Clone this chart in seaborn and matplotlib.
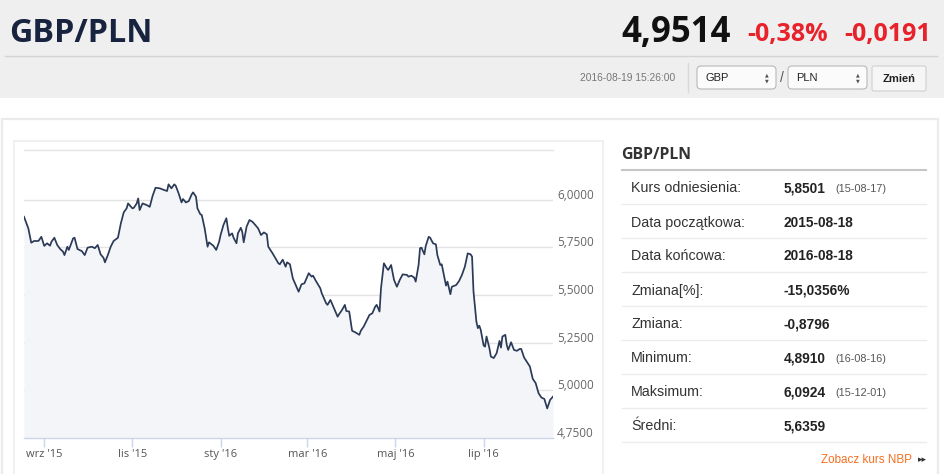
import numpy as np
import pandas as pd
import matplotlib
matplotlib.use("Agg")
import matplotlib.pyplot as plt
import seaborn as sns
from matplotlib.patches import FancyBboxPatch, Rectangle
from matplotlib.transforms import ScaledTranslation

# ---------------- data ----------------
start_date = "2015-08-18"
day_offsets = [0, 3, 5, 7, 10, 12, 14, 16, 18, 19, 21, 23, 25, 27, 28, 30, 31, 34, 35, 37,
               40, 42, 44, 47, 49, 51, 53, 55, 56, 58, 60, 62, 65, 67, 69, 71, 72, 75, 76, 78,
               79, 80, 82, 85, 87, 89, 91, 94, 97, 99, 100, 102, 104, 105, 107, 109, 110, 112, 114, 116,
               117, 119, 120, 122, 123, 125, 127, 128, 131, 133, 135, 136, 138, 140, 141, 142, 144, 145, 147, 148,
               150, 151, 152, 154, 156, 158, 160, 162, 164, 166, 168, 169, 172, 174, 176, 177, 179, 181, 182, 184,
               186, 188, 190, 192, 194, 197, 199, 200, 202, 205, 206, 209, 210, 212, 214, 217, 218, 220, 222, 223,
               225, 227, 229, 232, 233, 235, 237, 239, 241, 243, 244, 246, 247, 249, 251, 252, 254, 256, 258, 260,
               262, 265, 266, 268, 270, 271, 273, 274, 275, 277, 278, 280, 281, 283, 285, 286, 288, 289, 291, 292,
               293, 295, 296, 299, 301, 303, 305, 307, 309, 310, 311, 313, 314, 315, 316, 318, 319, 320, 322, 323,
               325, 327, 329, 330, 331, 333, 334, 335, 337, 339, 341, 343, 344, 346, 348, 350, 352, 354, 356, 358,
               360, 362, 364, 366]
rates = [5.910, 5.849, 5.774, 5.783, 5.783, 5.805, 5.757, 5.771, 5.758, 5.779, 5.800, 5.762, 5.741, 5.727, 5.709, 5.753, 5.736, 5.797, 5.800, 5.741,
         5.730, 5.709, 5.748, 5.753, 5.745, 5.762, 5.713, 5.695, 5.671, 5.709, 5.753, 5.783, 5.800, 5.875, 5.933, 5.954, 5.980, 5.954, 5.957, 5.980,
         6.006, 5.945, 5.980, 5.971, 5.962, 6.020, 6.062, 6.059, 6.050, 6.045, 6.080, 6.059, 6.080, 6.072, 6.032, 5.985, 6.003, 5.985, 5.992, 6.027,
         6.038, 6.015, 5.954, 5.923, 5.919, 5.849, 5.753, 5.776, 5.758, 5.736, 5.779, 5.814, 5.867, 5.902, 5.852, 5.810, 5.823, 5.800, 5.771, 5.823,
         5.852, 5.831, 5.776, 5.858, 5.893, 5.884, 5.867, 5.849, 5.814, 5.828, 5.818, 5.753, 5.718, 5.692, 5.666, 5.661, 5.685, 5.648, 5.671, 5.661,
         5.587, 5.552, 5.517, 5.556, 5.561, 5.614, 5.596, 5.601, 5.573, 5.535, 5.509, 5.457, 5.448, 5.474, 5.439, 5.386, 5.399, 5.421, 5.448, 5.416,
         5.413, 5.312, 5.305, 5.291, 5.312, 5.334, 5.364, 5.395, 5.404, 5.439, 5.448, 5.413, 5.535, 5.666, 5.640, 5.631, 5.657, 5.579, 5.543, 5.579,
         5.608, 5.605, 5.596, 5.601, 5.591, 5.570, 5.657, 5.745, 5.748, 5.713, 5.758, 5.805, 5.800, 5.771, 5.765, 5.709, 5.657, 5.661, 5.587, 5.549,
         5.570, 5.504, 5.543, 5.552, 5.573, 5.605, 5.648, 5.718, 5.713, 5.701, 5.517, 5.360, 5.326, 5.339, 5.317, 5.235, 5.229, 5.282, 5.221, 5.177,
         5.169, 5.195, 5.259, 5.224, 5.282, 5.291, 5.238, 5.212, 5.252, 5.212, 5.207, 5.217, 5.217, 5.172, 5.148, 5.125, 5.060, 5.038, 4.985, 4.962,
         4.955, 4.905, 4.950, 4.967]

x_tick_dates = ["2015-09-01", "2015-11-01", "2016-01-01", "2016-03-01", "2016-05-01", "2016-07-01"]
x_tick_labels = ["wrz '15", "lis '15", "sty '16", "mar '16", "maj '16", "lip '16"]
y_ticks = [4.75, 5.00, 5.25, 5.50, 5.75, 6.00]
y_tick_labels = ["4,7500", "5,0000", "5,2500", "5,5000", "5,7500", "6,0000"]

pair_title = "GBP/PLN"
last_rate = "4,9514"
change_pct = "-0,38%"
change_abs = "-0,0191"
timestamp = "2016-08-19 15:26:00"

table_labels = ["Kurs odniesienia:", "Data początkowa:", "Data końcowa:", "Zmiana[%]:",
                "Zmiana:", "Minimum:", "Maksimum:", "Średni:"]
table_values = ["5,8501", "2015-08-18", "2016-08-18", "-15,0356%", "-0,8796", "4,8910", "6,0924", "5,6359"]
table_notes = ["(15-08-17)", "", "", "", "", "(16-08-16)", "(15-12-01)", ""]

# ---------------- figure ----------------
W, H = 945, 474
fig = plt.figure(figsize=(W / 100, H / 100), dpi=100)
fig.patch.set_facecolor("white")

# background canvas in pixel coordinates
bg = fig.add_axes([0, 0, 1, 1], zorder=0)
bg.set_xlim(0, W)
bg.set_ylim(H, 0)
bg.axis("off")

# header band
bg.add_patch(Rectangle((0, 0), W, 98, facecolor="#efefef", edgecolor="none"))
bg.plot([5, 937], [56, 56], color="#d3d3d3", lw=1)
bg.text(9, 42, pair_title, fontfamily="Open Sans", fontweight="bold", fontsize=23.2,
        color="#17233f", va="baseline", ha="left")
bg.text(621, 42, last_rate, fontfamily="Open Sans", fontweight="bold", fontsize=25,
        color="#111111", va="baseline", ha="left")
bg.text(747, 41, change_pct, fontfamily="Open Sans", fontweight="bold", fontsize=18,
        color="#e8222b", va="baseline", ha="left")
bg.text(931, 41, change_abs, fontfamily="Open Sans", fontweight="bold", fontsize=18,
        color="#e8222b", va="baseline", ha="right")

bg.text(675, 78, timestamp, fontfamily="Liberation Sans", fontsize=7.4, color="#777777",
        va="center", ha="right")
bg.plot([688, 688], [63, 92], color="#d8d8d8", lw=1)

for (bx, lab) in [(697, "GBP"), (788, "PLN")]:
    bg.add_patch(FancyBboxPatch((bx, 66), 79, 23, boxstyle="round,pad=0,rounding_size=4",
                                facecolor="#fbfbfb", edgecolor="#b8b8b8", lw=0.8))
    bg.text(bx + 8, 77.5, lab, fontfamily="Liberation Sans", fontsize=8, color="#222222",
            va="center", ha="left")
    bg.text(bx + 70, 74.5, "▲", fontsize=3.5, color="#555555", va="center", ha="center")
    bg.text(bx + 70, 80.5, "▼", fontsize=3.5, color="#555555", va="center", ha="center")
bg.text(782, 78, "/", fontfamily="Liberation Sans", fontsize=10, color="#555555",
        va="center", ha="center")
bg.add_patch(FancyBboxPatch((872, 66), 54, 25, boxstyle="round,pad=0,rounding_size=2",
                            facecolor="#f6f6f6", edgecolor="#cfcfcf", lw=0.8))
bg.text(899, 79, "Zmień", fontfamily="Liberation Sans", fontweight="bold", fontsize=8,
        color="#222222", va="center", ha="center")

# content frames
bg.add_patch(Rectangle((2, 119), 936, 400, facecolor="white", edgecolor="#ebebeb", lw=1.6))
bg.add_patch(Rectangle((14, 141), 589, 400, facecolor="white", edgecolor="#ededed", lw=1.2))

# stats table
bg.text(621, 155, pair_title, fontfamily="Open Sans", fontweight="bold", fontsize=11.4,
        color="#333333", va="center", ha="left")
bg.plot([622, 926], [170, 170], color="#c6c6c6", lw=1.5)
row_h = 34
for i, (lab, val, note) in enumerate(zip(table_labels, table_values, table_notes)):
    yc = 187 + row_h * i
    bg.text(631, yc + 1.5, lab, fontfamily="Liberation Sans", fontsize=10.3, color="#333333",
            va="center", ha="left")
    bg.text(784, yc + 1.5, val, fontfamily="Liberation Sans", fontweight="bold", fontsize=9.9,
            color="#222222", va="center", ha="left")
    if note:
        bg.text(835, yc + 2, note, fontfamily="Liberation Sans", fontsize=7.8, color="#555555",
                va="center", ha="left")
    bg.plot([622, 926], [yc + 17, yc + 17], color="#ececec", lw=1)

bg.text(821, 460, "Zobacz kurs NBP", fontfamily="Liberation Sans", fontsize=8.4,
        color="#f37021", va="center", ha="left")
bg.text(918, 460, "▸▸", fontfamily="DejaVu Sans", fontsize=6.5, color="#333333",
        va="center", ha="left")

# ---------------- chart ----------------
dates = pd.Timestamp(start_date) + pd.to_timedelta(day_offsets, unit="D")
df = pd.DataFrame({"date": dates, "rate": rates})

x0, x1, ytop, ybot = 24, 553, 150, 438
ax = fig.add_axes([x0 / W, 1 - ybot / H, (x1 - x0) / W, (ybot - ytop) / H], zorder=2)
ax.set_facecolor("none")

ymin, ymax = 4.75, 6.26
ax.fill_between(df["date"], df["rate"], ymin, color="#f4f5f8", lw=0, zorder=1)
sns.lineplot(data=df, x="date", y="rate", ax=ax, color="#2b3a57", lw=1.25, zorder=3)

ax.set_xlim(pd.Timestamp(start_date), dates[-1])
ax.set_ylim(ymin, ymax)
ax.set_xlabel("")
ax.set_ylabel("")

ax.set_xticks(pd.to_datetime(x_tick_dates))
ax.set_xticklabels(x_tick_labels, fontfamily="Open Sans", fontsize=8, color="#555555")
ax.tick_params(axis="x", length=6.5, width=1, color="#ccd6eb", pad=1.5)

ax.yaxis.tick_right()
ax.set_yticks(y_ticks)
ax.set_yticklabels(y_tick_labels, fontfamily="Open Sans", fontsize=8.5, color="#666666")
ax.tick_params(axis="y", length=0, pad=3)
offset = ScaledTranslation(0, 6 / 100, fig.dpi_scale_trans)
for lbl in ax.get_yticklabels():
    lbl.set_transform(lbl.get_transform() + offset)

ax.grid(axis="y", color="#e3e3e3", lw=1)
ax.grid(axis="x", visible=False)
ax.set_axisbelow(True)
for side in ["left", "right"]:
    ax.spines[side].set_visible(False)
ax.spines["top"].set_color("#e3e3e3")
ax.spines["top"].set_linewidth(1)
ax.spines["bottom"].set_color("#ccd6eb")
ax.spines["bottom"].set_linewidth(1)

fig.savefig("out.png", dpi=100, facecolor="white")
